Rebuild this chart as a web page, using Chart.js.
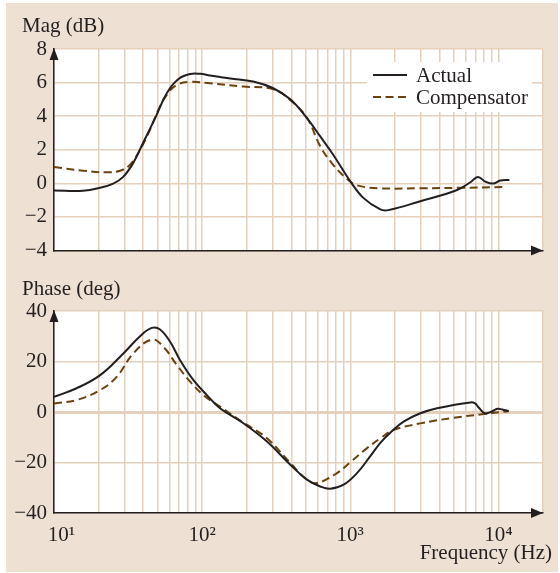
<!DOCTYPE html>
<html>
<head>
<meta charset="utf-8">
<script src="https://cdn.jsdelivr.net/npm/chart.js@4.4.1/dist/chart.umd.min.js"></script>
<style>
  html, body { margin: 0; padding: 0; background: #fff; }
  #page { position: relative; width: 560px; height: 573px; overflow: hidden; }
  #frame { position: absolute; left: 6px; top: 3px; width: 552px; height: 569px; background: #eee1d4; }
  canvas { position: absolute; left: 0; }
  .lbl { position: absolute; font-family: 'Liberation Serif', serif; font-size: 21px; line-height: 1; color: #231f20; white-space: nowrap; }
</style>
</head>
<body>
<div id="page">
  <div id="frame"></div>
  <canvas id="magChart" width="560" height="270" style="top:0"></canvas>
  <canvas id="phaseChart" width="560" height="303" style="top:270px"></canvas>
  <div class="lbl" style="left:22px; top:15px">Mag (dB)</div>
  <div class="lbl" style="left:22px; top:278px">Phase (deg)</div>
  <div class="lbl" style="right:8px; top:542px">Frequency (Hz)</div>
</div>
<script>
// frequency axis
const freqDecades = [10, 100, 1000, 10000];
const freqTickLabels = ['\u2002\u200910\u00b9', '10\u00b2', '10\u00b3', '10\u2074'];
const magTicks = [-4, -2, 0, 2, 4, 6, 8];
const phaseTicks = [-40, -20, 0, 20, 40];

// magnitude (dB)
const magFreqActual = [10, 15.7, 20.5, 25.1, 29.3, 34.2, 39.9, 48.9, 57.7, 68.9, 83, 97, 113, 132, 155, 221, 302, 394, 510, 627, 767, 1000, 1225, 1596, 1807, 2972, 5260, 6470, 7270, 8160, 9200, 10300, 11860];
const magActual = [-0.43, -0.45, -0.27, -0.02, 0.38, 1.2, 2.4, 4.0, 5.37, 6.2, 6.51, 6.52, 6.42, 6.33, 6.24, 6.06, 5.66, 5.0, 3.88, 2.79, 1.7, 0.12, -0.87, -1.56, -1.6, -1.07, -0.4, 0.06, 0.38, 0.1, -0.02, 0.16, 0.2];
const magFreqComp = [10, 15.7, 22.7, 27.9, 32.6, 38.1, 44.5, 50.7, 57.7, 67.5, 83, 113, 189, 302, 394, 510, 627, 767, 951, 1110, 1596, 2972, 5520, 11100];
const magComp = [0.97, 0.75, 0.65, 0.75, 1.1, 2.0, 3.2, 4.38, 5.27, 5.86, 6.04, 5.96, 5.76, 5.6, 4.95, 3.9, 2.2, 1.1, 0.26, -0.12, -0.3, -0.3, -0.27, -0.22];

// phase (deg)
const phaseFreqActual = [10, 14.2, 20.5, 29.4, 38.1, 45.7, 52, 60.8, 71, 87.4, 107.6, 132, 190, 274, 394, 510, 627, 733, 902, 1110, 1365, 1596, 1862, 2290, 2972, 3855, 6470, 7000, 7330, 7960, 8400, 9300, 9900, 10600, 11740];
const phaseActual = [6.0, 9.4, 14.6, 23.2, 30.0, 33.3, 32.7, 27.8, 20.5, 12.6, 6.7, 1.5, -4.45, -11.7, -20.9, -26.8, -29.5, -30.4, -28.8, -24.2, -17.5, -12.2, -8.2, -3.8, -0.5, 1.5, 3.8, 3.3, 1.9, -0.3, -0.5, 0.6, 1.3, 1.0, 0.4];
const phaseFreqComp = [10, 14.2, 20.5, 26.5, 34.3, 45.7, 54.8, 67.5, 83, 102, 132, 190, 274, 394, 510, 596, 813, 1000, 1298, 1596, 1963, 2972, 4990, 7960, 11740];
const phaseComp = [3.4, 4.75, 8.7, 13.9, 23.2, 28.7, 25.8, 18.6, 12.0, 6.7, 2.1, -4.2, -10.4, -20.2, -26.8, -28.1, -24.2, -19.9, -14.3, -10.4, -7.1, -4.5, -2.3, -0.8, 0.3];

const ink = '#231f20';
const brown = '#6b420f';
const gridColor = '#e4d0bb';
const font = { family: "'Liberation Serif', serif", size: 21 };

// every 1..9 x decade, up to 2e4
const gridFreqs = [];
freqDecades.forEach(d => {
    for (let m = 1; m <= 9; m++) {
        if (d * m <= 20000) gridFreqs.push(d * m);
    }
});

const pairs = (xs, ys) => xs.map((x, i) => ({ x: x, y: ys[i] }));

const plotBackground = {
    id: 'plotBackground',
    beforeDraw(chart) {
        const { ctx, chartArea: a } = chart;
        ctx.save();
        ctx.fillStyle = '#ffffff';
        ctx.fillRect(a.left, a.top, a.right - a.left, a.bottom - a.top);
        ctx.restore();
    }
};

const axisArrows = {
    id: 'axisArrows',
    afterDraw(chart) {
        const { ctx, chartArea: a } = chart;
        ctx.save();
        ctx.fillStyle = ink;
        ctx.beginPath();
        ctx.moveTo(a.left, a.top - 1);
        ctx.lineTo(a.left - 4.5, a.top + 11);
        ctx.lineTo(a.left + 4.5, a.top + 11);
        ctx.fill();
        ctx.beginPath();
        ctx.moveTo(a.right, a.bottom);
        ctx.lineTo(a.right - 12, a.bottom - 5);
        ctx.lineTo(a.right - 12, a.bottom + 5);
        ctx.fill();
        ctx.restore();
    }
};

const insideLegend = {
    id: 'insideLegend',
    afterDatasetsDraw(chart, args, opts) {
        if (!opts.show) return;
        const { ctx, chartArea: a } = chart;
        const sets = chart.data.datasets;
        ctx.save();
        ctx.font = "21px 'Liberation Serif', serif";
        const textW = Math.max(...sets.map(d => ctx.measureText(d.label).width));
        const rowH = 22;
        const w = 6 + 34 + 9 + textW + 4;
        const right = a.right - 11;
        const top = a.top + 13;
        const left = right - w;
        ctx.fillStyle = '#ffffff';
        ctx.fillRect(left, top, w, 13 + rowH + 15);
        sets.forEach((d, i) => {
            const y = top + 13 + i * rowH;
            ctx.strokeStyle = d.borderColor;
            ctx.lineWidth = d.borderWidth;
            ctx.setLineDash(d.borderDash || []);
            ctx.beginPath();
            ctx.moveTo(left + 6, y);
            ctx.lineTo(left + 40, y);
            ctx.stroke();
            ctx.fillStyle = ink;
            ctx.textBaseline = 'middle';
            ctx.fillText(d.label, left + 49, y + 1);
        });
        ctx.restore();
    }
};

function freqScale(showLabels, height) {
    return {
        type: 'logarithmic',
        min: 10,
        max: 20000,
        afterBuildTicks(scale) { scale.ticks = gridFreqs.map(v => ({ value: v })); },
        afterFit(scale) { scale.height = height; },
        grid: { color: gridColor, lineWidth: 1.5, drawTicks: false },
        border: { color: ink, width: 1.5 },
        ticks: {
            display: showLabels,
            autoSkip: false,
            maxRotation: 0,
            padding: 10,
            font: font,
            color: ink,
            callback: (v) => {
                const k = freqDecades.indexOf(v);
                return k >= 0 ? freqTickLabels[k] : '';
            }
        }
    };
}

function levelScale(tickValues, zeroWidth) {
    return {
        min: tickValues[0],
        max: tickValues[tickValues.length - 1],
        afterBuildTicks(scale) { scale.ticks = tickValues.map(v => ({ value: v })); },
        afterFit(scale) { scale.width = 54; },
        grid: {
            color: gridColor,
            lineWidth: (c) => (c.tick && c.tick.value === 0 ? zeroWidth : 1.5),
            drawTicks: false
        },
        border: { color: ink, width: 1.5 },
        ticks: {
            padding: 7,
            font: font,
            color: ink,
            callback: (v) => String(v).replace('-', '\u2212')
        }
    };
}

function lineSets(fa, ya, fc, yc) {
    return [{
        label: 'Actual',
        data: pairs(fa, ya),
        borderColor: ink,
        borderWidth: 2,
        pointRadius: 0,
        tension: 0.4,
        fill: false
    }, {
        label: 'Compensator',
        data: pairs(fc, yc),
        borderColor: brown,
        borderWidth: 2,
        borderDash: [8, 4.5],
        pointRadius: 0,
        tension: 0.4,
        fill: false
    }];
}

window.magChart = new Chart(document.getElementById('magChart'), {
    type: 'line',
    data: { datasets: lineSets(magFreqActual, magActual, magFreqComp, magComp) },
    options: {
        responsive: false,
        animation: false,
        layout: { padding: { left: 0, top: 49, right: 17, bottom: 0 } },
        scales: {
            x: freqScale(false, 19),
            y: levelScale(magTicks, 1.5)
        },
        plugins: {
            legend: { display: false },
            tooltip: { enabled: false },
            insideLegend: { show: true }
        }
    },
    plugins: [plotBackground, axisArrows, insideLegend]
});

window.phaseChart = new Chart(document.getElementById('phaseChart'), {
    type: 'line',
    data: { datasets: lineSets(phaseFreqActual, phaseActual, phaseFreqComp, phaseComp) },
    options: {
        responsive: false,
        animation: false,
        layout: { padding: { left: 0, top: 41, right: 17, bottom: 0 } },
        scales: {
            x: freqScale(true, 60),
            y: levelScale(phaseTicks, 3)
        },
        plugins: {
            legend: { display: false },
            tooltip: { enabled: false },
            insideLegend: { show: false }
        }
    },
    plugins: [plotBackground, axisArrows, insideLegend]
});
</script>
</body>
</html>
